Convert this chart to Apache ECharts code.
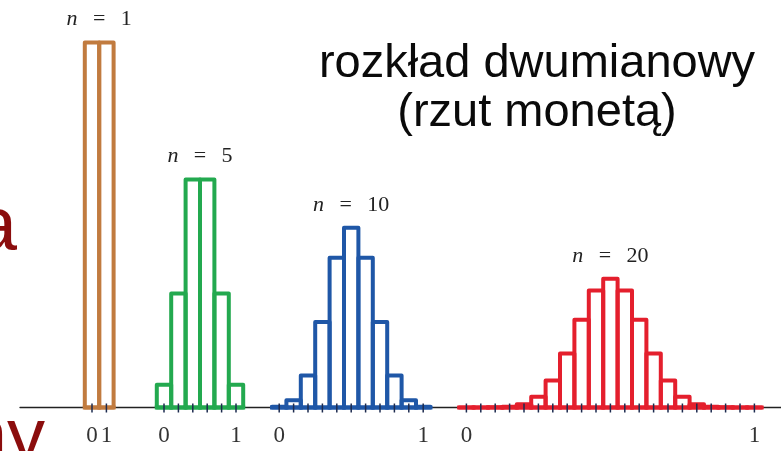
<!DOCTYPE html>
<html>
<head>
<meta charset="utf-8">
<script src="https://cdn.jsdelivr.net/npm/echarts@6/dist/echarts.min.js"></script>
<style>
  html, body { margin: 0; padding: 0; background: #fff; }
  #chart { width: 781px; height: 451px; }
</style>
</head>
<body>
<div id="chart"></div>
<script>
// probability of k heads in n coin tosses, one array per n
const n1 = [0.5, 0.5];
const n5 = [0.0313, 0.1563, 0.3125, 0.3125, 0.1563, 0.0313];
const n10 = [0.0010, 0.0098, 0.0439, 0.1172, 0.2051, 0.2461, 0.2051, 0.1172, 0.0439, 0.0098, 0.0010];
const n20 = [0, 0, 0.0002, 0.0011, 0.0046, 0.0148, 0.0370, 0.0739, 0.1201, 0.1602, 0.1762,
             0.1602, 0.1201, 0.0739, 0.0370, 0.0148, 0.0046, 0.0011, 0.0002, 0, 0];
const sizes = [1, 5, 10, 20];
// where k=0 of each histogram sits on the shared x axis (unit = one bar)
const starts = [5, 10, 18, 31];
const colors = ['#c17b3f', '#23a94f', '#1f57a7', '#e41f2d'];
const endLabels = ['0', '1'];
const titleLines = ['rozkład dwumianowy', '(rzut monetą)'];

var myChart = echarts.init(document.getElementById('chart'));

function histSeries(i, probs) {
  const n = sizes[i];
  const color = colors[i];
  return {
    type: 'custom',
    clip: false,
    silent: true,
    data: probs.map((p, k) => [starts[i] + k, p]),
    renderItem(params, api) {
      const x = api.value(0);
      const p = api.value(1);
      const tl = api.coord([x - 0.5, p]);
      const br = api.coord([x + 0.5, 0]);
      const c = api.coord([x, 0]);
      const children = [
        {
          type: 'rect',
          shape: { x: tl[0], y: tl[1], width: br[0] - tl[0], height: br[1] - tl[1] },
          style: { fill: 'none', stroke: color, lineWidth: 4, lineJoin: 'round' }
        },
        {
          type: 'line',
          shape: { x1: tl[0] - 2, y1: br[1], x2: br[0] + 2, y2: br[1] },
          style: { stroke: color, lineWidth: 4 }
        },
        {
          type: 'line',
          z2: 10,
          shape: { x1: c[0], y1: c[1] - 4, x2: c[0], y2: c[1] + 5 },
          style: { stroke: '#1d2b4f', lineWidth: 1.5 }
        }
      ];
      const k = params.dataIndex;
      if (k === 0 || k === n) {
        children.push({
          type: 'text',
          z2: 10,
          style: {
            text: endLabels[k === 0 ? 0 : 1],
            x: c[0], y: c[1] + 28,
            align: 'center', verticalAlign: 'middle',
            fontFamily: 'Liberation Serif', fontSize: 23, fill: '#333'
          }
        });
      }
      if (k === 0) {
        const top = api.coord([starts[i] + n / 2, Math.max(...probs)]);
        children.push({
          type: 'text',
          z2: 10,
          style: {
            text: '{i|n}\u2002\u2009=\u2002\u2009' + n,
            x: top[0], y: top[1] - 23,
            align: 'center', verticalAlign: 'middle',
            fontFamily: 'Liberation Serif', fontSize: 22, fill: '#222',
            rich: {
              i: { fontFamily: 'Liberation Serif', fontSize: 22, fontStyle: 'italic', fill: '#222' }
            }
          }
        });
      }
      return { type: 'group', children };
    }
  };
}

var option = {
  animation: false,
  backgroundColor: '#fff',
  grid: { left: 20, right: 0, top: 0, bottom: 43.5 },
  xAxis: {
    type: 'value',
    min: 0,
    max: 761 / 14.4,
    axisLine: { show: true, onZero: true, lineStyle: { color: '#222', width: 1.3 } },
    axisTick: { show: false },
    axisLabel: { show: false },
    splitLine: { show: false }
  },
  yAxis: {
    type: 'value',
    min: 0,
    max: 407.5 / 730,
    show: false
  },
  graphic: [
    {
      type: 'text',
      style: {
        text: titleLines.join('\n'),
        x: 537, y: 40,
        align: 'center', verticalAlign: 'top',
        fontFamily: 'Liberation Sans', fontSize: 47, lineHeight: 49, fill: '#0a0a0a'
      }
    },
    {
      type: 'text',
      style: {
        text: 'a', x: 17, y: 229,
        align: 'right', verticalAlign: 'middle',
        fontFamily: 'Liberation Sans', fontSize: 76, fill: '#8b0d0d'
      }
    },
    {
      type: 'text',
      style: {
        text: 'ny', x: 45, y: 440,
        align: 'right', verticalAlign: 'middle',
        fontFamily: 'Liberation Sans', fontSize: 76, fill: '#8b0d0d'
      }
    }
  ],
  series: [n1, n5, n10, n20].map((probs, i) => histSeries(i, probs))
};

option && myChart.setOption(option);
</script>
</body>
</html>
